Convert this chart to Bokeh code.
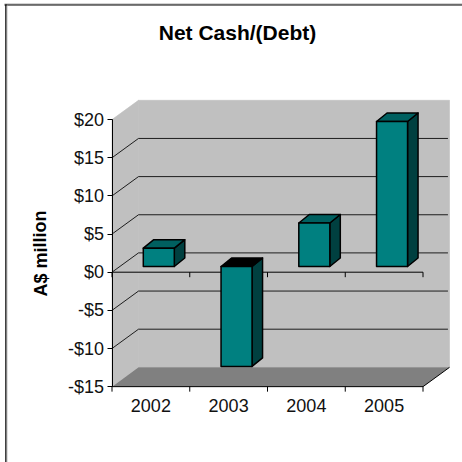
from bokeh.embed import file_html
from bokeh.resources import INLINE
from bokeh.plotting import figure
from bokeh.models import LinearAxis, FixedTicker, Range1d, Label

# Net cash position by year, A$ million
years = ["2002", "2003", "2004", "2005"]
net_cash = [2.4, -13.1, 5.7, 19.0]
value_ticks = [-15, -10, -5, 0, 5, 10, 15, 20]
value_labels = ["-$15", "-$10", "-$5", "$0", "$5", "$10", "$15", "$20"]

SIZE = 462
PX_PER_UNIT = 7.63      # vertical pixels per A$ million
PX_PER_CAT = 77.75      # horizontal pixels per year
LEFT = 111.5            # pixel column of the value axis
ZERO = 271.7            # pixel row of the zero plane

# Oblique projection: offset of the back wall and of each bar's depth, in data units
WALL_DX = 26.5 / PX_PER_CAT
WALL_DY = 19.3 / PX_PER_UNIT
BAR_DX = 10.5 / PX_PER_CAT
BAR_DY = 8.5 / PX_PER_UNIT
BAR_W = 31.0 / PX_PER_CAT
BAR_LIFT = 5.7 / PX_PER_UNIT     # bars stand a little behind the front plane
BAR_INSET = 31.3 / PX_PER_CAT

y_top = ZERO / PX_PER_UNIT
y_bot = (ZERO - SIZE) / PX_PER_UNIT
x_lo = -LEFT / PX_PER_CAT
x_hi = (SIZE - LEFT) / PX_PER_CAT


def col(px):
    return x_lo + px / PX_PER_CAT


def row(px):
    return y_top - px / PX_PER_UNIT


p = figure(width=SIZE, height=SIZE, output_backend="svg", toolbar_location=None,
           x_range=Range1d(x_lo, x_hi), y_range=Range1d(y_bot, y_top),
           min_border=0, min_border_left=0, min_border_right=0,
           min_border_top=0, min_border_bottom=0, outline_line_color=None,
           x_axis_type=None, y_axis_type=None)
p.grid.visible = False
p.background_fill_color = "white"

# Chart-area border: only its top and left edges fall inside the page
p.line([col(4), col(462)], [row(3.5), row(3.5)], line_color="#a8a8a8", line_width=1)
p.line([col(4), col(462)], [row(4.5), row(4.5)], line_color="#000000", line_width=1)
p.line([col(5.5), col(5.5)], [row(4), row(462)], line_color="#000000", line_width=1.5)
p.line([col(6.5), col(6.5)], [row(5), row(462)], line_color="#c0c0c0", line_width=1)

vmin, vmax = value_ticks[0], value_ticks[-1]
n = len(years)
WALL = "#c0c0c0"

# Back wall, side wall and floor
p.patch([WALL_DX, n + WALL_DX, n + WALL_DX, WALL_DX],
        [vmin + WALL_DY, vmin + WALL_DY, vmax + WALL_DY, vmax + WALL_DY],
        fill_color=WALL, line_color=WALL, line_width=0.6)
p.patch([0, WALL_DX, WALL_DX, 0],
        [vmin, vmin + WALL_DY, vmax + WALL_DY, vmax],
        fill_color=WALL, line_color=WALL, line_width=0.6)
p.patch([0, n, n + WALL_DX, WALL_DX],
        [vmin, vmin, vmin + WALL_DY, vmin + WALL_DY],
        fill_color="#808080", line_color=None)
p.line([n, n + WALL_DX], [vmin, vmin + WALL_DY], line_color="#000000", line_width=1)

# Gridlines run along the side wall, then across the back wall
for v in value_ticks[1:-1]:
    p.line([0, WALL_DX, n + WALL_DX - 0.02],
           [v, v + WALL_DY, v + WALL_DY], line_color="#000000", line_width=1, line_alpha=0.85)

# Year boundaries on the floor edge and on the zero plane
boundaries = list(range(n + 1))
tick_len = 5 / PX_PER_UNIT
for level in (vmin, 0):
    p.line([0, n], [level, level], line_color="#000000", line_width=1)
    p.segment(boundaries, [level] * (n + 1), boundaries, [level - tick_len] * (n + 1),
              line_color="#000000", line_width=1)

# Bars drawn as three faces each
TEAL, TOP, SIDE = "#008080", "#006060", "#004040"
for i, v in enumerate(net_cash):
    x0 = i + BAR_INSET
    x1 = x0 + BAR_W
    hi = max(0, v) + BAR_LIFT
    lo = min(0, v) + BAR_LIFT
    top_colour = "#000000" if v < 0 else TOP
    p.patch([x1, x1 + BAR_DX, x1 + BAR_DX, x1],
            [lo, lo + BAR_DY, hi + BAR_DY, hi],
            fill_color=SIDE, line_color="#000000", line_width=1.5, line_join="round")
    p.patch([x0, x1, x1 + BAR_DX, x0 + BAR_DX],
            [hi, hi, hi + BAR_DY, hi + BAR_DY],
            fill_color=top_colour, line_color="#000000", line_width=1.5, line_join="round")
    p.patch([x0, x1, x1, x0], [lo, lo, hi, hi],
            fill_color=TEAL, line_color="#000000", line_width=1.5, line_join="round")

# Value axis on the front edge
yaxis = LinearAxis(fixed_location=0, ticker=FixedTicker(ticks=value_ticks),
                   major_label_overrides=dict(zip(value_ticks, value_labels)),
                   bounds=(vmin, vmax), axis_line_color="#000000", axis_line_width=1,
                   major_tick_line_color="#000000", major_tick_in=0, major_tick_out=5,
                   minor_tick_line_color=None, major_label_standoff=3,
                   major_label_text_font="Liberation Sans", major_label_text_font_size="18px",
                   major_label_text_color="#111111")
p.add_layout(yaxis, "left")

# Year labels centred between the boundaries
centres = [i + 0.5 for i in range(n)]
xlabels = LinearAxis(fixed_location=vmin, ticker=FixedTicker(ticks=centres),
                     major_label_overrides=dict(zip(centres, years)),
                     axis_line_color=None, major_tick_line_color=None,
                     minor_tick_line_color=None, major_label_standoff=6,
                     major_label_text_font="Liberation Sans", major_label_text_font_size="18px",
                     major_label_text_color="#111111")
p.add_layout(xlabels, "below")

p.add_layout(Label(x=237, y=SIZE - 32, x_units="screen", y_units="screen", text="Net Cash/(Debt)",
                   text_font="Liberation Sans", text_font_size="21px", text_font_style="bold",
                   text_align="center", text_baseline="middle", text_color="#000000"))
p.add_layout(Label(x=40, y=SIZE - 253, x_units="screen", y_units="screen", text="A$ million",
                   angle=1.5708, text_font="Liberation Sans", text_font_size="18px",
                   text_font_style="bold", text_align="center", text_baseline="middle",
                   text_color="#000000"))

open("out.html", "w").write(file_html(p, INLINE))
